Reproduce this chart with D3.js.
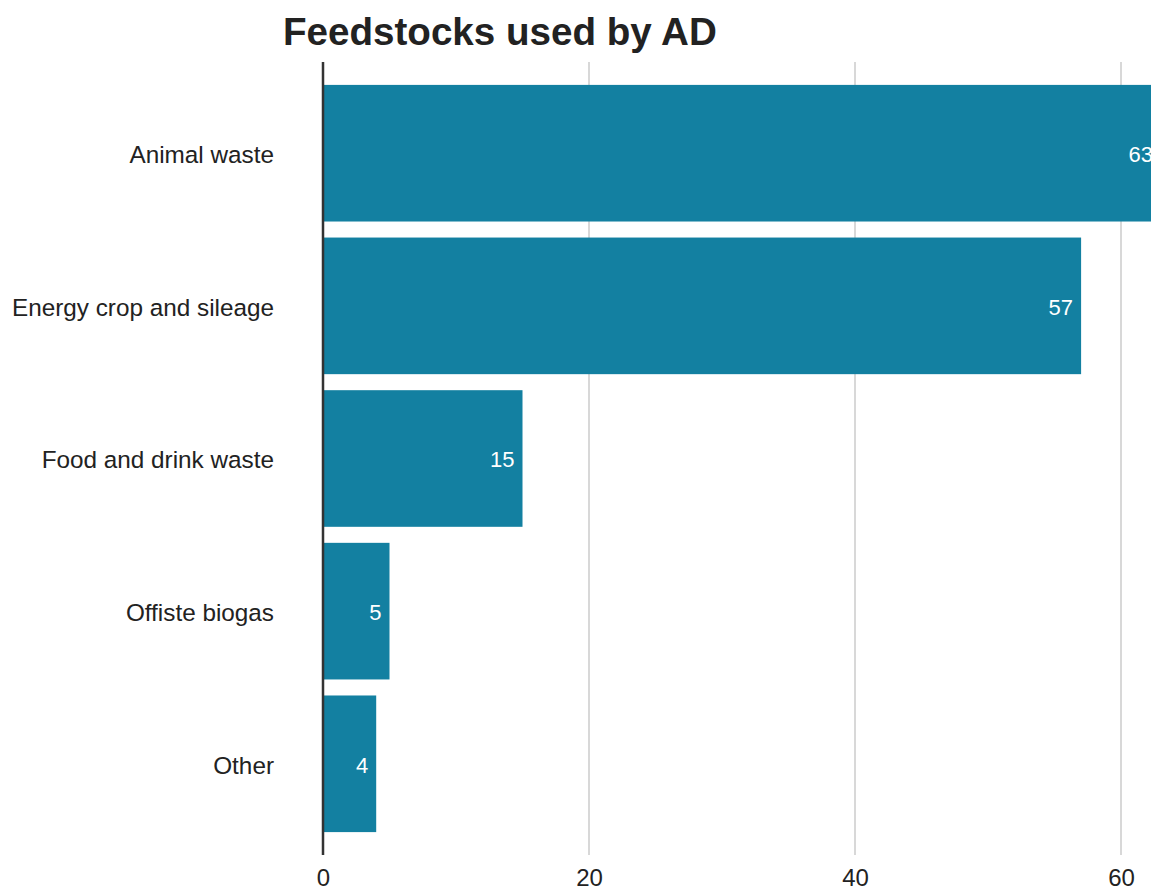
<!DOCTYPE html>
<html>
<head>
<meta charset="utf-8">
<script src="https://cdn.jsdelivr.net/npm/d3@7"></script>
<style>
  body { margin: 0; background: #fff; }
  text { font-family: "Liberation Sans", Arial, sans-serif; }
</style>
</head>
<body>
<div id="chart"></div>
<script>
// data
const categories = ["Animal waste", "Energy crop and sileage", "Food and drink waste", "Offiste biogas", "Other"]
const values = [63, 57, 15, 5, 4]
const xTicks = [0, 20, 40, 60]

const W = 1151, H = 888
const margin = { top: 62, right: 0, bottom: 33, left: 323 }

const svg = d3.select("#chart")
    .append("svg")
    .attr("width", W)
    .attr("height", H)

// x scale: 20 units ~ 266px
const x = d3.scaleLinear()
    .domain([0, 60])
    .range([margin.left, 1121])

const y = d3.scaleBand()
    .domain(categories)
    .range([margin.top, H - margin.bottom])
    .paddingInner(0.105)
    .paddingOuter(0.15)

// gridlines
svg.append("g")
    .selectAll("line")
    .data(xTicks.slice(1))
    .join("line")
    .attr("x1", d => x(d))
    .attr("x2", d => x(d))
    .attr("y1", margin.top)
    .attr("y2", H - margin.bottom)
    .attr("stroke", "#cbcbcb")
    .attr("stroke-width", 1.5)

// bars
const data = categories.map((c, i) => ({ cat: c, val: values[i] }))

svg.append("g")
    .selectAll("rect")
    .data(data)
    .join("rect")
    .attr("x", x(0))
    .attr("y", d => y(d.cat))
    .attr("width", d => x(d.val) - x(0))
    .attr("height", y.bandwidth())
    .attr("fill", "#1380A1")

// value labels
svg.append("g")
    .selectAll("text")
    .data(data)
    .join("text")
    .attr("x", d => x(d.val) - 8)
    .attr("y", d => y(d.cat) + y.bandwidth() / 2)
    .attr("dy", "0.4em")
    .attr("text-anchor", "end")
    .attr("fill", "#fff")
    .style("font-size", "22px")
    .text(d => d.val)

// y axis line
svg.append("line")
    .attr("x1", x(0))
    .attr("x2", x(0))
    .attr("y1", margin.top)
    .attr("y2", H - margin.bottom)
    .attr("stroke", "#333")
    .attr("stroke-width", 2.5)

// category labels
svg.append("g")
    .selectAll("text")
    .data(categories)
    .join("text")
    .attr("x", 274)
    .attr("y", d => y(d) + y.bandwidth() / 2)
    .attr("dy", "0.4em")
    .attr("text-anchor", "end")
    .attr("fill", "#222")
    .style("font-size", "24.3px")
    .text(d => d)

// x tick labels
const xAxis = d3.axisBottom(x).tickValues(xTicks).tickSize(0).tickPadding(0)
const xg = svg.append("g")
    .attr("transform", "translate(0," + 869 + ")")
    .call(xAxis)
xg.select(".domain").remove()
xg.selectAll("text")
    .attr("dy", "0.71em")
    .attr("fill", "#222")
    .style("font-size", "24px")
    .style("font-family", "'Liberation Sans', Arial, sans-serif")

// title
svg.append("text")
    .attr("x", 283)
    .attr("y", 45)
    .attr("fill", "#222")
    .style("font-size", "38.6px")
    .style("font-weight", "bold")
    .text("Feedstocks used by AD")
</script>
</body>
</html>
